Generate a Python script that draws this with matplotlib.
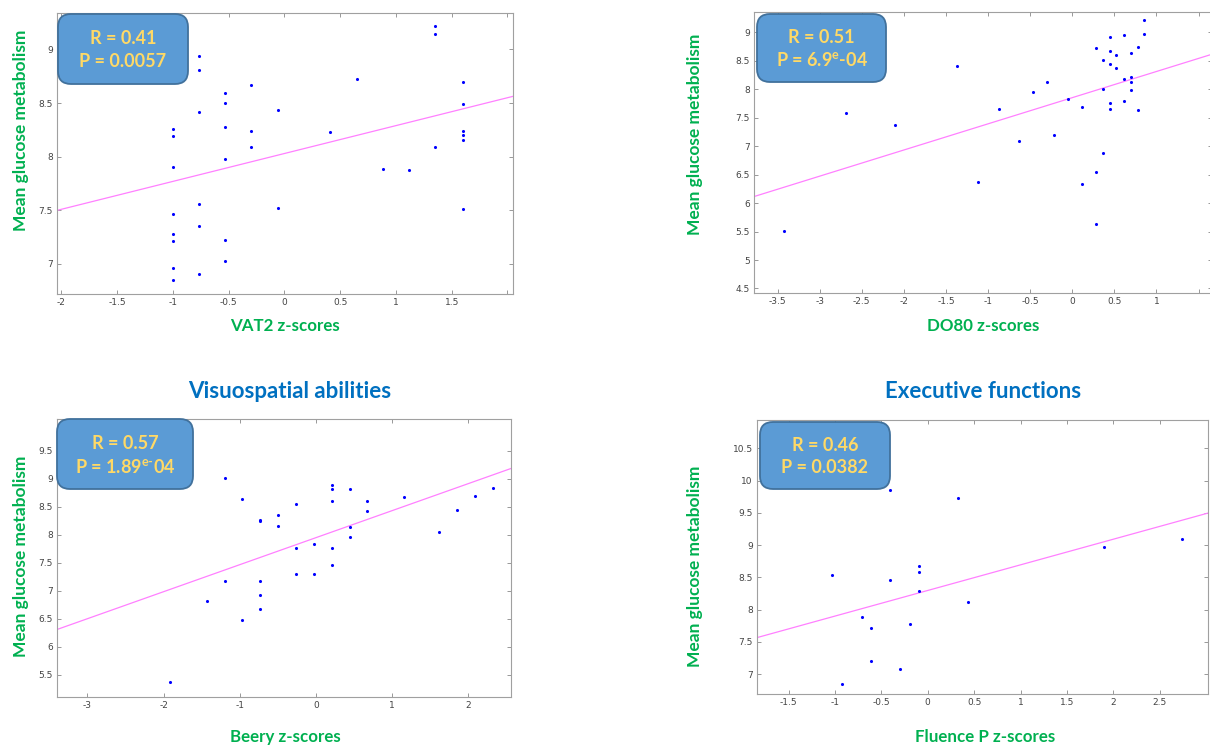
import numpy as np
import matplotlib
matplotlib.use("Agg")
import matplotlib.pyplot as plt
from matplotlib.patches import FancyBboxPatch

# --- data ---
# Visuospatial: VAT2
vat2_x = [1.35, 1.35, -0.77, -0.77, -0.535, -0.535, -0.30, 0.65, 1.60, 1.60,
          -0.77, -0.06, -1.0, -1.0, -0.535, -0.30, 0.41, 1.60, 1.60, 1.60,
          -0.30, 1.35, -0.535, -1.0, 0.885, 1.12, -0.77, -0.06, 1.60, -1.0,
          -0.77, -1.0, -1.0, -0.535, -0.535, -1.0, -0.77, -1.0]
vat2_y = [9.22, 9.14, 8.94, 8.81, 8.59, 8.50, 8.67, 8.72, 8.70, 8.49,
          8.42, 8.44, 8.26, 8.19, 8.28, 8.24, 8.23, 8.24, 8.20, 8.16,
          8.09, 8.09, 7.98, 7.90, 7.89, 7.88, 7.56, 7.52, 7.51, 7.47,
          7.35, 7.28, 7.21, 7.22, 7.03, 6.96, 6.91, 6.85]

# Executive: DO80
do80_x = [0.855, 0.855, 0.446, 0.609, 0.278, 0.446, 0.525, 0.692, 0.776, 0.362,
          0.446, 0.525, -1.372, -0.298, 0.692, 0.609, 0.692, -0.465, 0.362, 0.692,
          -0.052, 0.609, 0.446, 0.115, 0.446, 0.776, -0.875, -2.689, -2.108, -0.215,
          -0.628, 0.362, 0.278, 0.115, -1.118, 0.278, -3.429]
do80_y = [9.22, 8.98, 8.92, 8.95, 8.72, 8.68, 8.61, 8.64, 8.74, 8.51,
          8.44, 8.38, 8.41, 8.13, 8.22, 8.18, 8.13, 7.95, 8.00, 7.98,
          7.83, 7.80, 7.76, 7.69, 7.65, 7.64, 7.66, 7.59, 7.37, 7.20,
          7.10, 6.89, 6.54, 6.33, 6.38, 5.64, 5.51]

# Visuospatial: Beery
beery_x = [-1.20, 0.21, 0.21, 0.443, -0.968, 1.152, 2.086, 2.323, 0.21, 0.675,
           -0.263, 0.675, 1.854, -0.495, -0.736, -0.736, -0.495, 0.443, 0.443, 1.621,
           -0.026, -0.263, 0.21, 0.21, -0.263, -0.026, -1.20, -0.736, -0.736, -1.437,
           -0.736, -0.968, -1.911]
beery_y = [9.01, 8.89, 8.81, 8.82, 8.64, 8.68, 8.69, 8.83, 8.60, 8.60,
           8.55, 8.43, 8.45, 8.36, 8.26, 8.25, 8.15, 8.14, 7.96, 8.05,
           7.84, 7.76, 7.76, 7.46, 7.30, 7.30, 7.18, 7.17, 6.93, 6.81,
           6.68, 6.48, 5.36]

# Executive: Fluence P
fluence_x = [-0.403, 0.331, 2.739, 1.902, -0.09, -0.09, -1.028, -0.403, -0.09, 0.435,
             -0.712, -0.191, -0.607, -0.607, -0.298, -0.924]
fluence_y = [9.86, 9.73, 9.09, 8.97, 8.67, 8.58, 8.54, 8.46, 8.29, 8.12,
             7.89, 7.77, 7.72, 7.20, 7.08, 6.84]

# regression lines (slope, intercept) as drawn
fit_vat2 = (0.26, 8.03)
fit_do80 = (0.46, 7.854)
fit_beery = (0.483, 7.949)
fit_fluence = (0.3975, 8.296)

stats_text = [("R = 0.41", "P = 0.0057"),
              ("R = 0.51", r"P = 6.9$^{\mathrm{e}}$-04"),
              ("R = 0.57", r"P = 1.89$^{\mathrm{e\text{-}}}$04"),
              ("R = 0.46", "P = 0.0382")]
xlabels = ["VAT2 z-scores", "DO80 z-scores", "Beery z-scores", "Fluence P z-scores"]
titles = ["Visuospatial abilities", "Executive functions"]

W, H = 1210, 747
GREEN = "#00B050"
BLUE_T = "#0070C0"
YELLOW = "#FFD966"
FONT = "Lato"

plt.rcParams["mathtext.fontset"] = "custom"
plt.rcParams["mathtext.rm"] = "Lato:bold"

fig = plt.figure(figsize=(W / 100, H / 100), dpi=100)


def add_ax(left, top, right, bottom):
    return fig.add_axes([left / W, 1 - bottom / H, (right - left) / W, (bottom - top) / H])


def style(ax, xlim, ylim, xt, yt, xt_hide=()):
    ax.set_xlim(xlim)
    ax.set_ylim(ylim)
    ax.set_xticks(xt)
    ax.set_xticklabels(["" if t in xt_hide else f"{t:g}" for t in xt])
    ax.set_yticks(yt)
    ax.set_yticklabels([f"{t:g}" for t in yt])
    ax.tick_params(direction="in", top=True, right=True, length=3, width=0.6,
                   color="#888888", labelsize=6.5, labelcolor="#444444", pad=3)
    for s in ax.spines.values():
        s.set_color("#a0a0a0")
        s.set_linewidth(0.8)


def panel(ax, x, y, fit):
    ax.scatter(x, y, s=5, color="#0000ff", linewidths=0, zorder=3)
    ax.axline((0, fit[1]), slope=fit[0], color="#ff80ff", lw=0.9, zorder=2)


ax1 = add_ax(57, 13, 513, 294)
panel(ax1, vat2_x, vat2_y, fit_vat2)
style(ax1, (-2.04, 2.05), (6.72, 9.34), np.arange(-2, 2.01, 0.5), [7, 7.5, 8, 8.5, 9], xt_hide=(2.0,))

ax2 = add_ax(754, 12, 1212, 293)
panel(ax2, do80_x, do80_y, fit_do80)
style(ax2, (-3.78, 1.66), (4.42, 9.36), np.arange(-3.5, 1.51, 0.5), np.arange(4.5, 9.01, 0.5), xt_hide=(1.5,))

ax3 = add_ax(57, 419, 511, 697)
panel(ax3, beery_x, beery_y, fit_beery)
style(ax3, (-3.4, 2.56), (5.1, 10.07), [-3, -2, -1, 0, 1, 2], np.arange(5.5, 9.51, 0.5))

ax4 = add_ax(757, 420, 1208, 694)
panel(ax4, fluence_x, fluence_y, fit_fluence)
style(ax4, (-1.84, 3.02), (6.69, 10.94), np.arange(-1.5, 2.51, 0.5), np.arange(7, 10.51, 0.5))


def ftext(x, y, s, **kw):
    fig.text(x / W, 1 - y / H, s, ha="center", va="center", family=FONT, fontweight="bold", **kw)


for (x, y) in [(21, 130), (695, 134), (21, 556), (695, 566)]:
    ftext(x, y, "Mean glucose metabolism", rotation=90, fontsize=12.5, color=GREEN)
for (x, y), s in zip([(285, 326), (983, 326), (285, 737), (985, 737)], xlabels):
    ftext(x, y, s, fontsize=12.2, color=GREEN)
for (x, y), s in zip([(290, 392), (983, 392)], titles):
    ftext(x, y, s, fontsize=16, color=BLUE_T)

boxes = [(58, 14, 188, 84), (757, 14, 886, 82), (57, 419, 193, 489), (760, 422, 890, 489)]
for (l, t, r, b), (rt, pt) in zip(boxes, stats_text):
    patch = FancyBboxPatch((l / 100, (H - b) / 100), (r - l) / 100, (b - t) / 100,
                           boxstyle="round,pad=0,rounding_size=0.13",
                           transform=fig.dpi_scale_trans, facecolor="#5B9BD5",
                           edgecolor="#41719C", linewidth=1.3, zorder=5)
    fig.patches.append(patch)
    h = b - t
    cx = (l + r) / 2
    ftext(cx, t + 0.35 * h, rt, fontsize=13, color=YELLOW, zorder=6)
    ftext(cx, t + 0.68 * h, pt, fontsize=13, color=YELLOW, zorder=6)

fig.savefig("out.png", dpi=100)
